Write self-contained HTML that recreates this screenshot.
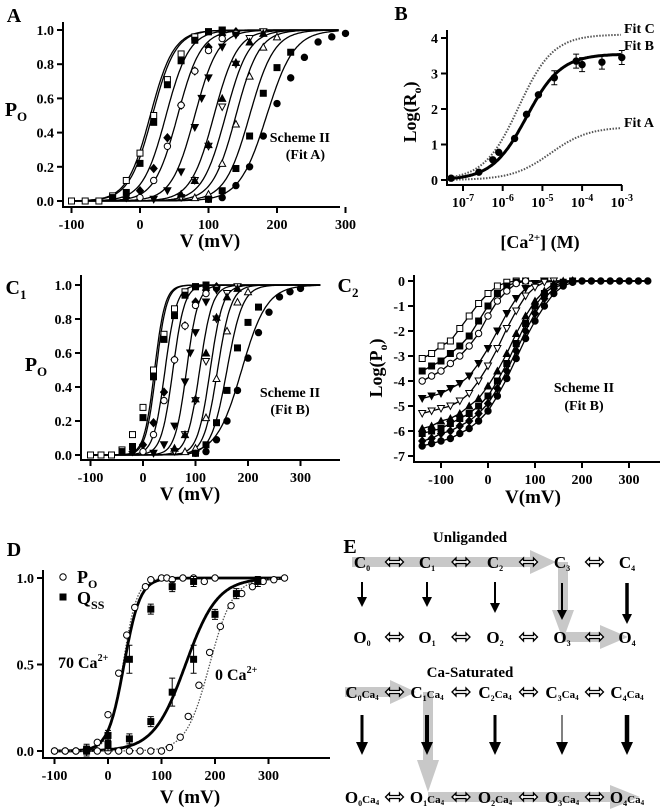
<!DOCTYPE html>
<html><head><meta charset="utf-8"><style>
html,body{margin:0;padding:0;background:#fff;}
svg{display:block;font-family:"Liberation Serif",serif;font-weight:bold;}
</style></head><body>
<svg id="fig" width="665" height="810" viewBox="0 0 665 810" xmlns="http://www.w3.org/2000/svg">
<g id="gA"></g>
<g id="gB"></g>
<g id="gC1"></g>
<g id="gC2"></g>
<g id="gD"></g>
<g id="gE"></g>
</svg>
<script>
// ---------- Data: panels A / C1 (Po vs V) ----------
const poV = [
 [-100,-80,-60,-40,-20,0,20,40,60,80,100,120],
 [-40,-20,0,20,40,60,80,100,120],
 [-20,0,20,40,60,80,100,120,140],
 [0,20,40,60,80,100,120,140],
 [20,40,60,80,90,100,120,140],
 [60,80,100,120,140,160,180],
 [60,80,100,120,140,160,180],
 [80,100,120,140,160,180,200],
 [100,120,140,160,180,200,220],
 [100,120,140,160,180,200,220,240,260,280,300]
];
const poP = [
 [0,0,0,0.03,0.12,0.28,0.5,0.71,0.86,0.96,0.99,1.0],
 [0.02,0.05,0.22,0.46,0.68,0.82,0.94,0.99,1.0],
 [0.02,0.06,0.19,0.37,0.56,0.76,0.9,0.97,0.99],
 [0.02,0.12,0.32,0.56,0.76,0.88,0.95,0.98],
 [0.01,0.06,0.17,0.43,0.6,0.72,0.9,0.97],
 [0.02,0.12,0.32,0.55,0.8,0.95,0.99],
 [0.04,0.12,0.33,0.6,0.81,0.93,0.98],
 [0.02,0.04,0.22,0.45,0.73,0.9,0.96],
 [0.01,0.06,0.19,0.38,0.63,0.78,0.87],
 [0.01,0.02,0.09,0.2,0.38,0.57,0.72,0.84,0.93,0.96,0.98]
];
const markers = ['osq','fsq','fdia','ocir','ftd','otd','ftu','otu','fsq','fcir'];
const fitAvh = [15,18,38,55,80,108,125,140,160,185];
const fitAk  = [17,17,17,17,17,17,17,17,18,20];
const fitBvh = [22,25,42,57,83,108,128,142,160,188];
const fitBk  = [10,10,11,11,11,12,12,13,15,24];
const poTicksX = [-100,0,100,200,300];
const poTicksY = [0,0.2,0.4,0.6,0.8,1.0];

// ---------- Data: panel B ----------
const bLogCa = [-7.3,-6.6,-6.25,-6.1,-5.7,-5.4,-5.1,-4.7,-4.15,-4.0,-3.5,-3.0];
const bLogR  = [0.05,0.22,0.57,0.78,1.17,1.85,2.4,2.88,3.35,3.25,3.32,3.45];
const bFitMax = [1.5,3.55,4.1];
const bFitMid = [-4.8,-5.4,-5.6];
const bFitSlope = [0.9,1.0,1.0];
const bFitNames = ['Fit A','Fit B','Fit C'];
const bTicksX = [-7,-6,-5,-4,-3];
const bTicksY = [0,1,2,3,4];

// ---------- Data: panel C2 ----------
const c2V = [-140,-120,-100,-80,-60,-40,-20,0,20,40,60,80,100,120,140,160,180,200,220,240,260,280,300,320,340];
const c2L = [
 [-3.1,-2.9,-2.6,-2.4,-1.9,-1.4,-0.9,-0.5,-0.2,-0.05,0],
 [-3.6,-3.4,-3.2,-2.9,-2.6,-2.2,-1.6,-1.0,-0.5,-0.2,-0.05,0],
 [-4.0,-3.8,-3.6,-3.3,-3.0,-2.6,-2.1,-1.4,-0.8,-0.4,-0.1,0],
 [-4.7,-4.6,-4.5,-4.3,-4.1,-3.8,-3.3,-2.7,-2.0,-1.3,-0.7,-0.3,-0.1,0],
 [-5.3,-5.2,-5.1,-5.0,-4.8,-4.5,-4.0,-3.4,-2.7,-1.9,-1.2,-0.6,-0.25,-0.05,0],
 [-5.9,-5.8,-5.6,-5.5,-5.3,-5.0,-4.7,-4.2,-3.6,-2.9,-2.1,-1.4,-0.8,-0.4,-0.1,0],
 [-6.1,-6.0,-5.9,-5.7,-5.5,-5.3,-5.0,-4.6,-4.0,-3.3,-2.5,-1.7,-1.0,-0.5,-0.2,-0.05,0],
 [-6.4,-6.3,-6.1,-6.0,-5.8,-5.6,-5.3,-4.9,-4.3,-3.6,-2.8,-2.0,-1.3,-0.7,-0.3,-0.1,0],
 [-6.6,-6.5,-6.4,-6.3,-6.1,-5.9,-5.6,-5.2,-4.6,-3.9,-3.1,-2.3,-1.6,-1.0,-0.5,-0.2,-0.05,0,0,0,0,0,0,0,0]
];
const c2Markers = ['osq','fsq','ocir','ftd','otd','ftu','fsq','fdia','fcir'];
const c2TicksX = [-100,0,100,200,300];
const c2TicksY = [0,-1,-2,-3,-4,-5,-6,-7];

// ---------- Data: panel D ----------
const dPo70V = [-100,-80,-60,-40,-20,0,20,35,50,70,80,100,110,120,140,160,180,200];
const dPo70P = [0,0,0,0.01,0.05,0.21,0.45,0.67,0.83,0.95,0.99,1,1,0.99,1,1,0.98,1];
const dQ70V = [-40,0,0,40,80,120,160];
const dQ70P = [0.01,0.09,0.04,0.53,0.82,0.95,0.98];
const dPo0V = [-100,-80,-60,-40,-20,0,20,40,60,80,100,115,135,150,170,190,210,230,250,270,290,310,330];
const dPo0P = [0,0,0,0,0,0,0,0,0,0,0,0.02,0.08,0.2,0.38,0.57,0.72,0.84,0.91,0.95,0.98,0.99,1];
const dQ0V = [-40,0,40,80,120,160,200,240,280];
const dQ0P = [0.0,0.03,0.07,0.17,0.34,0.53,0.79,0.91,0.98];
const dFitVh = [28,30,145,190];
const dFitK  = [13,15,30,22];
const dTicksX = [-100,0,100,200,300];
const dTicksY = [0,0.5,1.0];

// ---------- helpers ----------
const NS='http://www.w3.org/2000/svg';
function mk(parent,tag,attrs,text){
  const e=document.createElementNS(NS,tag);
  for(const k in attrs) e.setAttribute(k,attrs[k]);
  if(text!==undefined) e.textContent=text;
  parent.appendChild(e); return e;
}
function marker(g,type,x,y){
  const fill = type[0]==='f' ? '#000' : '#fff';
  const s=type.slice(1); let e;
  if(s==='sq') e=mk(g,'rect',{x:x-3,y:y-3,width:6,height:6,fill:fill,stroke:'#000','stroke-width':1});
  else if(s==='cir') e=mk(g,'circle',{cx:x,cy:y,r:3.2,fill:fill,stroke:'#000','stroke-width':1});
  else if(s==='dia') e=mk(g,'polygon',{points:`${x},${y-4} ${x+3.5},${y} ${x},${y+4} ${x-3.5},${y}`,fill:fill,stroke:'#000','stroke-width':1});
  else if(s==='td') e=mk(g,'polygon',{points:`${x-3.5},${y-3} ${x+3.5},${y-3} ${x},${y+3.5}`,fill:fill,stroke:'#000','stroke-width':1});
  else e=mk(g,'polygon',{points:`${x-3.5},${y+3} ${x+3.5},${y+3} ${x},${y-3.5}`,fill:fill,stroke:'#000','stroke-width':1});
  
  
}
function ebar(g,x,y,h){
  mk(g,'path',{d:`M${x},${y-h}V${y+h}M${x-3},${y-h}H${x+3}M${x-3},${y+h}H${x+3}`,stroke:'#000','stroke-width':1,fill:'none'});
}
function txt(g,x,y,s,size,anchor,name){
  const t=mk(g,'text',{x:x,y:y,'font-size':size,'text-anchor':anchor||'middle'});
  t.innerHTML=s;
  
  
  return t;
}
function axes(g,x0,y0,x1,yTop,xt,xs,yt,ys,xl,yl){
  const a=mk(g,'path',{d:`M${x0},${yTop}V${y0}H${x1}`,fill:'none',stroke:'#000','stroke-width':2});
  
  
  xt.forEach((v,i)=>{const px=xs(v);
    mk(g,'line',{x1:px,y1:y0,x2:px,y2:y0+6,stroke:'#000','stroke-width':2});
    txt(g,px,y0+22,xl[i],14,'middle','x-tick-label');});
  yt.forEach((v,i)=>{const py=ys(v);
    mk(g,'line',{x1:x0-6,y1:py,x2:x0,y2:py,stroke:'#000','stroke-width':2});
    txt(g,x0-9,py+5,yl[i],14,'end','y-tick-label');});
}
function curve(g,f,v0,v1,xs,ys,w,dash,name){
  let d='';for(let v=v0;v<=v1;v+=(v1-v0)/200){d+=(d?'L':'M')+xs(v).toFixed(1)+','+ys(f(v)).toFixed(1);}
  const p=mk(g,'path',{d:d,fill:'none',stroke:dash?'#555':'#000','stroke-width':w});
  if(dash)p.setAttribute('stroke-dasharray',dash);
  
  
}
const bolt=(vh,k)=>v=>1/(1+Math.exp(-(v-vh)/k));

// ---------- Panel A ----------
(function(){
 const g=document.getElementById('gA');
 const xs=v=>140+v*0.685, ys=p=>201-p*171;
 axes(g,63,207,340,22,poTicksX,xs,poTicksY,ys,poTicksX.map(String),poTicksY.map(v=>v.toFixed(1)));
 fitAvh.forEach((vh,i)=>curve(g,bolt(vh,fitAk[i]),-105,290,xs,ys,1.3,null,'fit-curve'));
 poV.forEach((vs,i)=>vs.forEach((v,j)=>marker(g,markers[i],xs(v),ys(poP[i][j]))));
 txt(g,14,22,'A',20,'middle','panel-label');
 txt(g,16,116,'P<tspan font-size="13" dy="5">O</tspan>',20,'middle','y-axis-title');
 txt(g,210,247,'V (mV)',19,'middle','x-axis-title');
 txt(g,330,142,'Scheme II',14,'end','annotation');
 txt(g,325,159,'(Fit A)',14,'end','annotation');
})();

// ---------- Panel B ----------
(function(){
 const g=document.getElementById('gB');
 const xs=l=>463+(l+7)*39.7, ys=v=>180-v*35.5;
 axes(g,447,185,622,30,bTicksX,xs,bTicksY,ys,bTicksX.map(v=>'10<tspan font-size="10" dy="-6">'+v+'</tspan>'),bTicksY.map(String));
 bFitMax.forEach((m,i)=>curve(g,l=>m/(1+Math.pow(10,-(l-bFitMid[i])*bFitSlope[i])),-7.4,-3,xs,ys,i===1?3:2,i===1?null:'1.5,1.5','fit-curve'));
 bLogCa.forEach((l,i)=>{
   if(i>=7){ebar(g,xs(l),ys(bLogR[i]),7);}
   marker(g,'fcir',xs(l),ys(bLogR[i]));});
 [127,50,33].forEach((y,i)=>txt(g,624,y,bFitNames[i],14,'start','fit-label'));
 txt(g,401,20,'B',20,'middle','panel-label');
 const t=txt(g,0,0,'Log(R<tspan font-size="12" dy="5">o</tspan><tspan dy="-5">)</tspan>',18,'middle','y-axis-title');
 t.setAttribute('transform','translate(416,112) rotate(-90)');
 txt(g,540,248,'[Ca<tspan font-size="11" dy="-7">2+</tspan><tspan dy="7">] (M)</tspan>',18,'middle','x-axis-title');
})();

// ---------- Panel C1 ----------
(function(){
 const g=document.getElementById('gC1');
 const xs=v=>143+v*0.525, ys=p=>455-p*170;
 axes(g,81,460,340,275,poTicksX,xs,poTicksY,ys,poTicksX.map(String),poTicksY.map(v=>v.toFixed(1)));
 fitBvh.forEach((vh,i)=>curve(g,bolt(vh,fitBk[i]),-105,340,xs,ys,1.3,null,'fit-curve'));
 poV.forEach((vs,i)=>vs.forEach((v,j)=>marker(g,markers[i],xs(v),ys(poP[i][j]))));
 txt(g,16,294,'C<tspan font-size="13" dy="5">1</tspan>',20,'middle','panel-label');
 txt(g,36,371,'P<tspan font-size="13" dy="5">O</tspan>',20,'middle','y-axis-title');
 txt(g,190,500,'V (mV)',19,'middle','x-axis-title');
 txt(g,290,397,'Scheme II',14,'middle','annotation');
 txt(g,290,414,'(Fit B)',14,'middle','annotation');
})();

// ---------- Panel C2 ----------
(function(){
 const g=document.getElementById('gC2');
 const xs=v=>488+v*0.47;
 const y2=l=>281-l*25;
 axes(g,414,462,660,275,c2TicksX,xs,c2TicksY,y2,c2TicksX.map(String),c2TicksY.map(String));
 c2L.forEach((ls,i)=>{
   let d='';ls.forEach((l,j)=>{d+=(j?'L':'M')+xs(c2V[j]).toFixed(1)+','+y2(l).toFixed(1);});
   d+='L'+xs(340)+','+y2(0);
   const p=mk(g,'path',{d:d,fill:'none',stroke:'#000','stroke-width':1.3,'stroke-linejoin':'round'});
   
   
   ls.forEach((l,j)=>marker(g,c2Markers[i],xs(c2V[j]),y2(l)));
 });
 txt(g,348,292,'C<tspan font-size="13" dy="5">2</tspan>',20,'middle','panel-label');
 const t=txt(g,0,0,'Log(P<tspan font-size="12" dy="5">o</tspan><tspan dy="-5">)</tspan>',18,'middle','y-axis-title');
 t.setAttribute('transform','translate(382,368) rotate(-90)');
 txt(g,533,503,'V(mV)',19,'middle','x-axis-title');
 txt(g,584,392,'Scheme II',14,'middle','annotation');
 txt(g,584,410,'(Fit B)',14,'middle','annotation');
})();

// ---------- Panel D ----------
(function(){
 const g=document.getElementById('gD');
 const xs=v=>108+v*0.535, ys=p=>751-p*173;
 axes(g,43,758,330,570,dTicksX,xs,dTicksY,ys,dTicksX.map(String),dTicksY.map(v=>v.toFixed(1)));
 curve(g,bolt(dFitVh[0],dFitK[0]),-100,330,xs,ys,1.3,'1.5,1.5','po-70-fit');
 curve(g,bolt(dFitVh[1],dFitK[1]),-100,330,xs,ys,2.8,null,'qss-70-fit');
 curve(g,bolt(dFitVh[2],dFitK[2]),-100,330,xs,ys,2.8,null,'qss-0-fit');
 curve(g,bolt(dFitVh[3],dFitK[3]),-100,330,xs,ys,1.3,'1.5,1.5','po-0-fit');
 dPo70V.forEach((v,i)=>marker(g,'ocir',xs(v),ys(dPo70P[i])));
 dQ70V.forEach((v,i)=>{ebar(g,xs(v),ys(dQ70P[i]),i===3?14:5);marker(g,'fsq',xs(v),ys(dQ70P[i]));});
 dPo0V.forEach((v,i)=>marker(g,'ocir',xs(v),ys(dPo0P[i])));
 dQ0V.forEach((v,i)=>{ebar(g,xs(v),ys(dQ0P[i]),(i===4||i===5)?14:5);marker(g,'fsq',xs(v),ys(dQ0P[i]));});
 txt(g,14,556,'D',20,'middle','panel-label');
 marker(g,'ocir',63,577); txt(g,77,583,'P<tspan font-size="12" dy="5">O</tspan>',18,'start','legend-entry-po');
 marker(g,'fsq',63,597); txt(g,77,604,'Q<tspan font-size="12" dy="5">SS</tspan>',18,'start','legend-entry-qss');
 txt(g,58,668,'70  Ca<tspan font-size="10" dy="-7">2+</tspan>',16,'start','label-70-ca');
 txt(g,215,680,'0  Ca<tspan font-size="10" dy="-7">2+</tspan>',16,'start','label-0-ca');
 txt(g,190,803,'V (mV)',19,'middle','x-axis-title');
})();

// ---------- Panel E ----------
(function(){
 const g=document.getElementById('gE');
 const grey='#c8c8c8';
 function band(d,name){const p=mk(g,'path',{d:d,fill:grey,stroke:'none'});
   }
 band('M352,557H530V550L556,562L530,574V567H352Z','pathway-band');
 band('M558,562H568V610H574L563,640L552,610H558Z','pathway-band');
 band('M563,632H600V625L628,637L600,649V642H563Z','pathway-band');
 band('M345,687H390V680L416,692L390,704V697H345Z','pathway-band');
 band('M423,692H433V760H439L428,792L417,760H423Z','pathway-band');
 band('M428,792H610V785L640,797L610,809V802H428Z','pathway-band');
 txt(g,350,553,'E',20,'middle','panel-label');
 txt(g,470,542,'Unliganded',15,'middle','scheme-title');
 txt(g,470,677,'Ca-Saturated',15,'middle','scheme-title');
 const cx=[362,427,495,562,627];
 function dbl(x,y){
   const p=mk(g,'path',{d:`M${x-9},${y}L${x-5},${y-4}V${y-1.5}H${x+5}V${y-4}L${x+9},${y}L${x+5},${y+4}V${y+1.5}H${x-5}V${y+4}Z`,fill:'#fff',stroke:'#000','stroke-width':1.3});
   
   
 }
 cx.forEach((x,i)=>{
   txt(g,x,568,'C<tspan font-size="8" dy="3">'+i+'</tspan>',17,'middle','state-c'+i);
   txt(g,x,643,'O<tspan font-size="8" dy="3">'+i+'</tspan>',17,'middle','state-o'+i);
   txt(g,x,698,'C<tspan font-size="8" dy="3">'+i+'</tspan><tspan font-size="11" dy="-3">Ca</tspan><tspan font-size="7" dy="2">4</tspan>',17,'middle','state-c'+i+'ca4');
   txt(g,x,803,'O<tspan font-size="8" dy="3">'+i+'</tspan><tspan font-size="11" dy="-3">Ca</tspan><tspan font-size="7" dy="2">4</tspan>',17,'middle','state-o'+i+'ca4');
   if(i<4){const mx=(x+cx[i+1])/2;
     dbl(mx,562);dbl(mx,637);dbl(mx,692);dbl(mx,797);}
 });
 const wU=[2,2,2,2,3.5], hU=[[582,597],[582,597],[582,603],[583,610],[583,614]];
 cx.forEach((x,i)=>{
   mk(g,'line',{x1:x,y1:hU[i][0],x2:x,y2:hU[i][1],stroke:'#000','stroke-width':wU[i]});
   mk(g,'polygon',{points:`${x-5},${hU[i][1]} ${x+5},${hU[i][1]} ${x},${hU[i][1]+10}`,fill:'#000'});
 });
 const wS=[3,4,3,1,4.5];
 cx.forEach((x,i)=>{
   mk(g,'line',{x1:x,y1:715,x2:x,y2:742,stroke:'#000','stroke-width':wS[i]});
   mk(g,'polygon',{points:`${x-6},742 ${x+6},742 ${x},755`,fill:'#000'});
 });
})();
</script>
</body></html>
